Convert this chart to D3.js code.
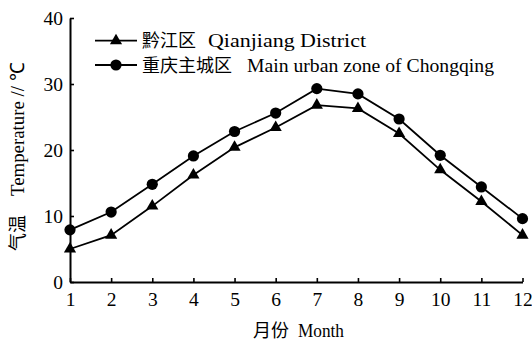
<!DOCTYPE html>
<html>
<head>
<meta charset="utf-8">
<script src="https://cdn.jsdelivr.net/npm/d3@7/dist/d3.min.js"></script>
<style>
  html, body { margin: 0; padding: 0; background: #fff; }
  svg { display: block; }
  .latin { font-family: "Liberation Serif", "Times New Roman", serif; font-size: 19.5px; fill: #000; }
  .cjk { font-family: "Noto Sans CJK SC", sans-serif; font-size: 18px; fill: #000; }
</style>
</head>
<body>
<svg id="chart" width="532" height="341"></svg>
<script>
// Monthly mean air temperature (°C)
const months = [1, 2, 3, 4, 5, 6, 7, 8, 9, 10, 11, 12];
const qianjiang = [5.0, 7.1, 11.5, 16.2, 20.4, 23.4, 26.8, 26.3, 22.5, 17.0, 12.2, 7.1];
const chongqing = [7.9, 10.6, 14.8, 19.1, 22.8, 25.6, 29.3, 28.5, 24.7, 19.2, 14.4, 9.6];
const yTicks = [0, 10, 20, 30, 40];

const seriesNames = [
  { zh: "黔江区", en: "Qianjiang District" },
  { zh: "重庆主城区", en: "Main urban zone of Chongqing" }
];

const svg = d3.select("#chart");

const x = d3.scaleLinear().domain([1, 12]).range([70, 522.5]);
const y = d3.scaleLinear().domain([0, 40]).range([282, 18]);

// Axes: ticks point inward
const xAxis = d3.axisBottom(x).tickValues(months).tickFormat(d3.format("d"))
  .tickSizeInner(-4).tickSizeOuter(0).tickPadding(10);
const yAxis = d3.axisLeft(y).tickValues(yTicks).tickFormat(d3.format("d"))
  .tickSizeInner(-4).tickSizeOuter(0).tickPadding(7);

const gx = svg.append("g").attr("transform", `translate(0,${y(0)})`).call(xAxis);
const gy = svg.append("g").attr("transform", `translate(${x(1)},0)`).call(yAxis);

[gx, gy].forEach(g => {
  g.select(".domain").attr("stroke", "#000").attr("stroke-width", 2);
  g.selectAll(".tick line").attr("stroke", "#000").attr("stroke-width", 1.6);
  g.selectAll(".tick text").attr("class", "latin").attr("font-size", null)
    .attr("font-family", null).attr("fill", "#000");
});

// Series lines and markers
const line = d3.line().x((d, i) => x(months[i])).y(d => y(d));

function drawSeries(values, marker) {
  svg.append("path").datum(values)
    .attr("d", line).attr("fill", "none")
    .attr("stroke", "#000").attr("stroke-width", 1.8);
  const g = svg.append("g");
  if (marker === "circle") {
    g.selectAll("circle").data(values).join("circle")
      .attr("cx", (d, i) => x(months[i])).attr("cy", d => y(d))
      .attr("r", 5.6).attr("fill", "#000");
  } else {
    g.selectAll("path").data(values).join("path")
      .attr("d", d3.symbol(d3.symbolTriangle, 64)())
      .attr("transform", (d, i) => `translate(${x(months[i])},${y(d)})`)
      .attr("fill", "#000");
  }
}
drawSeries(qianjiang, "triangle");
drawSeries(chongqing, "circle");

// Legend
const legendRows = [
  { cy: 40.7, marker: "triangle", enX: 208, enW: 158 },
  { cy: 65, marker: "circle", enX: 247, enW: 247 }
];
legendRows.forEach((r, i) => {
  const g = svg.append("g");
  g.append("line").attr("x1", 95).attr("x2", 137).attr("y1", r.cy).attr("y2", r.cy)
    .attr("stroke", "#000").attr("stroke-width", 1.8);
  if (r.marker === "circle") {
    g.append("circle").attr("cx", 116).attr("cy", r.cy).attr("r", 5.6).attr("fill", "#000");
  } else {
    g.append("path").attr("d", d3.symbol(d3.symbolTriangle, 64)())
      .attr("transform", `translate(116,${r.cy})`).attr("fill", "#000");
  }
  g.append("text").attr("class", "cjk").attr("x", 142).attr("y", r.cy + 6.5)
    .text(seriesNames[i].zh);
  g.append("text").attr("class", "latin").attr("x", r.enX).attr("y", r.cy + 6.5)
    .attr("textLength", r.enW).attr("lengthAdjust", "spacingAndGlyphs")
    .text(seriesNames[i].en);
});

// X axis title
svg.append("text").attr("class", "cjk").attr("x", 253).attr("y", 337).text("月份");
svg.append("text").attr("class", "latin").attr("x", 298).attr("y", 337)
  .attr("textLength", 46).attr("lengthAdjust", "spacingAndGlyphs").text("Month");

// Y axis title (rotated)
const yt = svg.append("g").attr("transform", "translate(24,0) rotate(-90)");
yt.append("text").attr("class", "cjk").attr("x", -251).attr("y", 0).text("气温");
yt.append("text").attr("class", "latin").attr("x", -196).attr("y", 0)
  .attr("textLength", 133).attr("lengthAdjust", "spacingAndGlyphs").text("Temperature // ℃");
</script>
</body>
</html>
